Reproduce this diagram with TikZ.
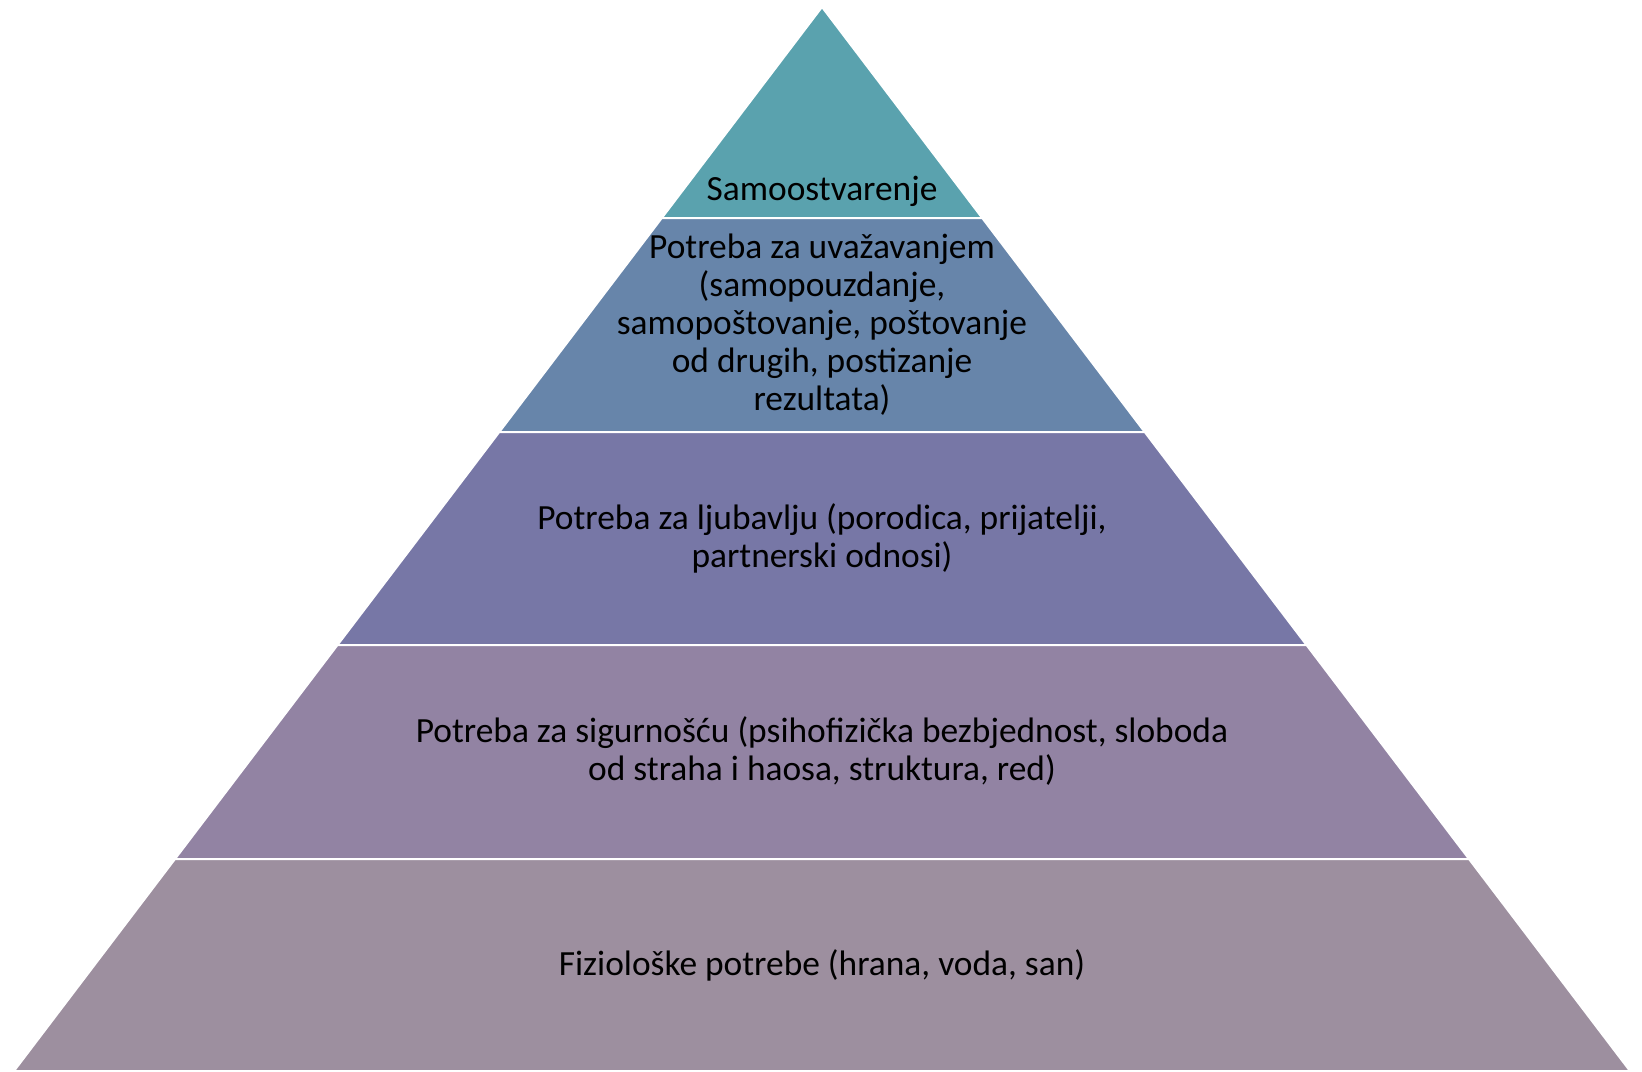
\documentclass[tikz,border=0pt]{standalone}
\usepackage{fontspec}
\setmainfont{Carlito}
\definecolor{lvlone}{HTML}{5AA2AE}
\definecolor{lvltwo}{HTML}{6785AA}
\definecolor{lvlthree}{HTML}{7777A6}
\definecolor{lvlfour}{HTML}{9283A3}
\definecolor{lvlfive}{HTML}{9D8F9F}
\begin{document}
\begin{tikzpicture}[x=0.5pt,y=-0.5pt,
  band/.style={draw=white, line width=1pt},
  lbl/.style={align=center, inner sep=0pt, font=\fontsize{17.7}{19}\selectfont}]
\useasboundingbox (0,0) rectangle (1642,1071);
\path[band,fill=lvlone] (822,7) -- (982.2,218) -- (661.8,218) -- cycle;
\path[band,fill=lvltwo] (661.8,218) -- (982.2,218) -- (1144.7,432) -- (499.3,432) -- cycle;
\path[band,fill=lvlthree] (499.3,432) -- (1144.7,432) -- (1306.5,645) -- (337.5,645) -- cycle;
\path[band,fill=lvlfour] (337.5,645) -- (1306.5,645) -- (1469,859) -- (175,859) -- cycle;
\path[band,fill=lvlfive] (175,859) -- (1469,859) -- (1630,1071) -- (14,1071) -- cycle;
\node[lbl] (top) at (822,191) {Samoostvarenje};
\node[lbl] (esteem) at (822,325) {Potreba za uvažavanjem\\(samopouzdanje,\\samopoštovanje, poštovanje\\od drugih, postizanje\\rezultata)};
\node[lbl] (love) at (822,538) {Potreba za ljubavlju (porodica, prijatelji,\\partnerski odnosi)};
\node[lbl] (safety) at (822,751) {Potreba za sigurnošću (psihofizička bezbjednost, sloboda\\od straha i haosa, struktura, red)};
\node[lbl] (basic) at (822,965) {Fiziološke potrebe (hrana, voda, san)};
\end{tikzpicture}
\end{document}
